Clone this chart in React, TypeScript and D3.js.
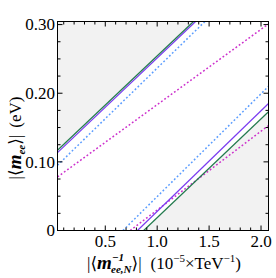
import React from 'react'
import * as d3 from 'd3'

// line end points: [x (10^-5 TeV^-1), |m_ee| (eV)]
const upperGreen: [number, number][] = [[0.04, 0.117], [1.35, 0.3045]]
const upperPurple: [number, number][] = [[0.04, 0.1135], [1.37, 0.3045]]
const upperBlue: [number, number][] = [[0.04, 0.095], [1.46, 0.3045]]
const upperMagenta: [number, number][] = [[0.04, 0.078], [2.072, 0.301]]
const lowerBlue: [number, number][] = [[0.67, 0], [2.072, 0.21]]
const lowerMagenta: [number, number][] = [[0.74, 0], [2.072, 0.153]]
const lowerPurple: [number, number][] = [[0.81, 0], [2.072, 0.185]]
const lowerGreen: [number, number][] = [[0.87, 0], [2.072, 0.173]]

const xTicks = [0.5, 1.0, 1.5, 2.0]
const xTickLabels = ['0.5', '1.0', '1.5', '2.0']
const yTicks = [0, 0.1, 0.2, 0.3]
const yTickLabels = ['0', '0.10', '0.20', '0.30']

const GREEN = '#237a4e'
const PURPLE = '#7a3cf0'
const BLUE = '#5a9cff'
const MAGENTA = '#cc2fcc'

export default function App() {
	const x = d3.scaleLinear().domain([0.04, 2.072]).range([57.5, 268.5])
	const y = d3.scaleLinear().domain([0, 0.3045]).range([230.5, 21.5])
	const [x0, x1] = x.domain()
	const [y0, y1] = y.domain()
	const line = d3.line<[number, number]>().x(d => x(d[0])).y(d => y(d[1]))

	const upperArea: [number, number][] = [upperGreen[0], upperGreen[1], [x0, y1]]
	const lowerArea: [number, number][] = [lowerGreen[0], lowerGreen[1], [x1, y0]]

	const xMinor = d3.range(0.1, 2.05, 0.1).filter(v => Math.abs(v * 2 - Math.round(v * 2)) > 1e-6)
	const yMinor = d3.range(0.025, 0.3, 0.025).filter(v => Math.abs(v * 10 - Math.round(v * 10)) > 1e-6)

	const top = y(y1), bot = y(y0), left = x(x0), right = x(x1)
	const serif = '"Liberation Serif", "DejaVu Serif", serif'
	const dots = '1.8,2.2'

	return (
		<svg width={276} height={278} style={{ position: 'absolute', left: 0, top: 0, background: '#fff' }}>
			<defs>
				<clipPath id='plot'>
					<rect x={left} y={top} width={right - left} height={bot - top} />
				</clipPath>
			</defs>
			<g clipPath='url(#plot)'>
				<path d={line(upperArea) + 'Z'} fill='#f2f2f2' />
				<path d={line(lowerArea) + 'Z'} fill='#f2f2f2' />
				<path d={line(upperMagenta)!} stroke={MAGENTA} strokeWidth={1.5} strokeDasharray={dots} fill='none' />
				<path d={line(lowerMagenta)!} stroke={MAGENTA} strokeWidth={1.5} strokeDasharray={dots} fill='none' />
				<path d={line(upperBlue)!} stroke={BLUE} strokeWidth={1.5} strokeDasharray={dots} fill='none' />
				<path d={line(lowerBlue)!} stroke={BLUE} strokeWidth={1.5} strokeDasharray={dots} fill='none' />
				<path d={line(upperPurple)!} stroke={PURPLE} strokeWidth={1.2} fill='none' />
				<path d={line(lowerPurple)!} stroke={PURPLE} strokeWidth={1.2} fill='none' />
				<path d={line(upperGreen)!} stroke={GREEN} strokeWidth={1.2} fill='none' />
				<path d={line(lowerGreen)!} stroke={GREEN} strokeWidth={1.2} fill='none' />
			</g>
			<rect x={left} y={top} width={right - left} height={bot - top} fill='none' stroke='#000' strokeWidth={1} />
			{/* ticks */}
			<g stroke='#000' strokeWidth={1}>
				{xTicks.map(v => (
					<g key={'xt' + v}>
						<line x1={x(v)} x2={x(v)} y1={bot} y2={bot - 5} />
						<line x1={x(v)} x2={x(v)} y1={top} y2={top + 5} />
					</g>
				))}
				{xMinor.map(v => (
					<g key={'xm' + v}>
						<line x1={x(v)} x2={x(v)} y1={bot} y2={bot - 3} />
						<line x1={x(v)} x2={x(v)} y1={top} y2={top + 3} />
					</g>
				))}
				{yTicks.map(v => (
					<g key={'yt' + v}>
						<line x1={left} x2={left + 5} y1={y(v)} y2={y(v)} />
						<line x1={right} x2={right - 5} y1={y(v)} y2={y(v)} />
					</g>
				))}
				{yMinor.map(v => (
					<g key={'ym' + v}>
						<line x1={left} x2={left + 3} y1={y(v)} y2={y(v)} />
						<line x1={right} x2={right - 3} y1={y(v)} y2={y(v)} />
					</g>
				))}
			</g>
			<g fontFamily={serif} fontSize={17} fill='#000'>
				{xTicks.map((v, i) => (
					<text key={'xl' + v} x={x(v)} y={247} textAnchor='middle'>{xTickLabels[i]}</text>
				))}
				{yTicks.map((v, i) => (
					<text key={'yl' + v} x={55} y={y(v) + 5.8} textAnchor='end'>{yTickLabels[i]}</text>
				))}
			</g>
			{/* x axis title */}
			<text x={164} y={269} textAnchor='middle' fontFamily={serif} fontSize={17}>
				<tspan>|⟨</tspan>
				<tspan fontWeight='bold' fontStyle='italic' fontSize={19}>m</tspan>
				<tspan fontSize={11} fontStyle='italic' fontWeight='bold' dy={-8}>−1</tspan>
				<tspan fontSize={11} fontStyle='italic' fontWeight='bold' dx={-13} dy={12}>ee,N</tspan>
				<tspan dy={-4}>⟩|</tspan>
				<tspan dx={9}>(10</tspan>
				<tspan fontSize={11} dy={-7}>−5</tspan>
				<tspan dy={7}>×TeV</tspan>
				<tspan fontSize={11} dy={-7}>−1</tspan>
				<tspan dy={7}>)</tspan>
			</text>
			{/* y axis title */}
			<text transform='translate(21,138) rotate(-90)' textAnchor='middle' fontFamily={serif} fontSize={17}>
				<tspan>|⟨</tspan>
				<tspan fontWeight='bold' fontStyle='italic' fontSize={19}>m</tspan>
				<tspan fontSize={11} fontStyle='italic' fontWeight='bold' dy={4}>ee</tspan>
				<tspan dy={-4}>⟩|</tspan>
				<tspan dx={7}>(eV)</tspan>
			</text>
		</svg>
	)
}
